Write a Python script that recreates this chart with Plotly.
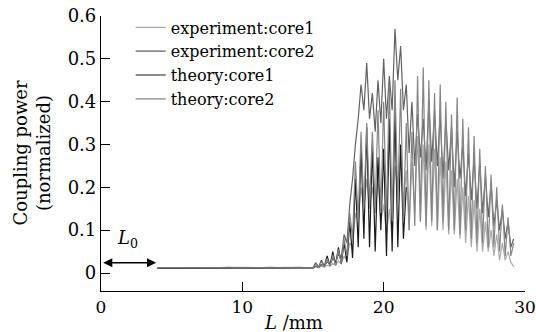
import plotly.graph_objects as go

# ---- data ----
L_flat = [4.0, 5.0, 6.0, 7.0, 8.0, 9.0, 10.0, 11.0, 12.0, 13.0, 14.0, 14.5]

exp1_flat = [0.012, 0.011, 0.012, 0.012, 0.011, 0.012, 0.013, 0.012, 0.012, 0.013, 0.012, 0.013]
exp2_flat = [0.012, 0.012, 0.011, 0.012, 0.012, 0.013, 0.012, 0.012, 0.013, 0.012, 0.013, 0.012]
th1_flat = [0.011, 0.011, 0.011, 0.011, 0.011, 0.011, 0.011, 0.011, 0.011, 0.011, 0.011, 0.011]
th2_flat = [0.012, 0.012, 0.012, 0.012, 0.012, 0.012, 0.012, 0.012, 0.012, 0.012, 0.012, 0.012]

# samples every 0.2 mm starting at L = 15.0 mm
exp1 = [
    0.012, 0.014, 0.013, 0.016, 0.014, 0.018, 0.016, 0.022, 0.018, 0.028,
    0.022, 0.040, 0.030, 0.070, 0.060, 0.140, 0.120, 0.200, 0.150, 0.220,
    0.150, 0.200, 0.140, 0.220, 0.120, 0.160, 0.090, 0.150, 0.080, 0.250,
    0.200, 0.280, 0.150, 0.240, 0.100, 0.260, 0.140, 0.320, 0.120, 0.300,
    0.100, 0.300, 0.110, 0.290, 0.100, 0.270, 0.100, 0.260, 0.090, 0.240,
    0.090, 0.220, 0.080, 0.200, 0.070, 0.180, 0.060, 0.170, 0.050, 0.150,
    0.050, 0.120, 0.050, 0.100, 0.040, 0.090, 0.030, 0.070, 0.030, 0.050,
    0.025, 0.015,
]

exp2 = [
    0.012, 0.016, 0.014, 0.020, 0.016, 0.026, 0.020, 0.034, 0.025, 0.045,
    0.035, 0.090, 0.070, 0.160, 0.220, 0.300, 0.360, 0.440, 0.380, 0.490,
    0.360, 0.420, 0.330, 0.450, 0.350, 0.500, 0.360, 0.460, 0.380, 0.570,
    0.450, 0.530, 0.380, 0.440, 0.280, 0.400, 0.250, 0.370, 0.270, 0.360,
    0.240, 0.400, 0.260, 0.380, 0.250, 0.370, 0.220, 0.360, 0.240, 0.340,
    0.200, 0.330, 0.220, 0.300, 0.180, 0.280, 0.170, 0.270, 0.150, 0.260,
    0.140, 0.230, 0.130, 0.210, 0.110, 0.170, 0.100, 0.150, 0.080, 0.120,
    0.060, 0.080,
]

th1 = [
    0.012, 0.024, 0.013, 0.030, 0.015, 0.040, 0.017, 0.050, 0.019, 0.060,
    0.022, 0.070, 0.025, 0.120, 0.035, 0.220, 0.060, 0.300, 0.080, 0.340,
    0.060, 0.300, 0.050, 0.270, 0.100, 0.290, 0.040, 0.360, 0.050, 0.380,
    0.060, 0.300, 0.080, 0.200,
]

th2 = [
    0.012, 0.022, 0.013, 0.028, 0.014, 0.034, 0.016, 0.042, 0.018, 0.055,
    0.022, 0.080, 0.040, 0.140, 0.080, 0.260, 0.120, 0.330, 0.150, 0.350,
    0.160, 0.330, 0.150, 0.380, 0.140, 0.400, 0.130, 0.440, 0.120, 0.450,
    0.160, 0.430, 0.120, 0.350, 0.100, 0.330, 0.110, 0.460, 0.120, 0.480,
    0.110, 0.450, 0.120, 0.420, 0.100, 0.440, 0.120, 0.400, 0.100, 0.370,
    0.100, 0.410, 0.090, 0.360, 0.100, 0.340, 0.080, 0.320, 0.070, 0.290,
    0.070, 0.250, 0.060, 0.230, 0.060, 0.200, 0.050, 0.160, 0.040, 0.130,
    0.040, 0.070,
]

names = ["experiment:core1", "experiment:core2", "theory:core1", "theory:core2"]
colors = ["#a9a9a9", "#626262", "#1a1a1a", "#858585"]

x_ticks = [0, 10, 20, 30]
y_ticks = [0, 0.1, 0.2, 0.3, 0.4, 0.5, 0.6]
y_tick_text = ["0", "0.1", "0.2", "0.3", "0.4", "0.5", "0.6"]


def grid(n):
    return [round(15.0 + 0.2 * i, 1) for i in range(n)]


series = [
    (exp1_flat, exp1),
    (exp2_flat, exp2),
    (th1_flat, th1),
    (th2_flat, th2),
]

FONT = "DejaVu Serif"

fig = go.Figure()
for (flat, act), name, col in zip(series, names, colors):
    fig.add_trace(go.Scatter(
        x=L_flat + grid(len(act)),
        y=flat + act,
        mode="lines",
        name=name,
        line=dict(color=col, width=1.2),
    ))

fig.update_layout(
    width=536, height=332,
    margin=dict(l=101, r=11, t=16, b=41),
    paper_bgcolor="white", plot_bgcolor="white",
    font=dict(family=FONT, size=17, color="black"),
    showlegend=True,
    legend=dict(
        x=0.07, y=1.02, xanchor="left", yanchor="top",
        bgcolor="rgba(0,0,0,0)", borderwidth=0,
        font=dict(family=FONT, size=16, color="black"),
        tracegroupgap=0,
    ),
    xaxis=dict(
        range=[0, 30], tickvals=x_ticks, ticks="inside", ticklen=9,
        tickwidth=1.2, tickcolor="black",
        showline=True, linecolor="black", linewidth=1.2,
        showgrid=False, zeroline=False, automargin=False,
        ticklabeloverflow="allow",
        tickfont=dict(family=FONT, size=17),
    ),
    yaxis=dict(
        range=[-0.042, 0.6], tickvals=y_ticks, ticktext=y_tick_text,
        ticks="inside", ticklen=9, tickwidth=1.2, tickcolor="black",
        showline=True, linecolor="black", linewidth=1.2,
        showgrid=False, zeroline=False, automargin=False,
        ticklabeloverflow="allow",
        tickfont=dict(family=FONT, size=18),
    ),
)

# axis titles
fig.add_annotation(
    text="Coupling power<br>(normalized)", xref="paper", yref="paper",
    x=-0.165, y=0.5, xanchor="center", yanchor="middle",
    textangle=-90, showarrow=False,
    font=dict(family=FONT, size=18),
)
fig.add_annotation(
    text="<i>L</i> /mm", xref="paper", yref="paper",
    x=0.455, y=-0.113, xanchor="center", yanchor="middle",
    showarrow=False, font=dict(family=FONT, size=18),
)

# L0 double arrow
fig.add_annotation(
    x=3.9, y=0.024, ax=0.05, ay=0.024, xref="x", yref="y",
    axref="x", ayref="y", text="", showarrow=True,
    arrowhead=2, arrowside="end+start", arrowsize=1.4, arrowwidth=1.3,
    arrowcolor="black",
)
fig.add_annotation(
    x=1.85, y=0.079, xref="x", yref="y", text="<i>L</i><sub>0</sub>",
    showarrow=False, font=dict(family=FONT, size=18),
)

fig.write_html(
    "out.html",
    config={"displayModeBar": False},
    post_script="document.body.style.margin='0';document.body.style.overflow='hidden';",
)
